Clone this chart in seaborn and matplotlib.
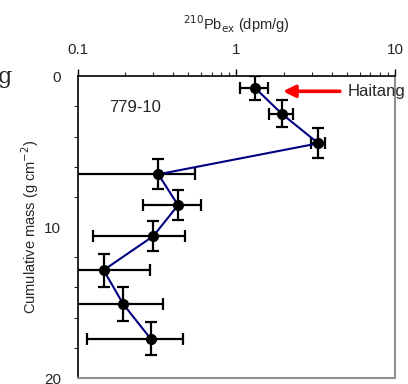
import numpy as np
import pandas as pd
import matplotlib
matplotlib.use('Agg')
import matplotlib.pyplot as plt
import seaborn as sns

sns.set_style('white')
plt.rcParams['font.family'] = ['Liberation Sans', 'DejaVu Sans']

# 210Pb excess activity (dpm/g) vs cumulative mass (g cm^-2), core 779-10
pb_ex = [1.32, 1.94, 3.29, 0.323, 0.43, 0.30, 0.146, 0.194, 0.289]
pb_err = [0.26, 0.33, 0.32, 0.23, 0.17, 0.175, 0.14, 0.15, 0.175]
cum_mass = [0.8, 2.5, 4.45, 6.5, 8.55, 10.6, 12.85, 15.1, 17.4]
mass_err = [0.8, 0.9, 1.0, 1.0, 1.0, 1.0, 1.1, 1.1, 1.1]

df = pd.DataFrame({'pb': pb_ex, 'mass': cum_mass})

fig = plt.figure(figsize=(4.08, 3.84), dpi=100)
ax = fig.add_axes([0.190, 0.0156, 0.778, 0.786])

ax.errorbar(pb_ex, cum_mass, xerr=pb_err, yerr=mass_err, fmt='none',
            ecolor='black', elinewidth=1.6, capsize=4.5, capthick=1.6, zorder=2)
sns.lineplot(data=df, x='pb', y='mass', sort=False, estimator=None,
             color='#000080', linewidth=1.5, ax=ax, zorder=3)
ax.plot(pb_ex, cum_mass, 'o', color='black', markersize=7, zorder=4)

ax.set_xscale('log')
ax.set_xlim(0.1, 10)
ax.set_ylim(20, 0)
ax.xaxis.set_ticks_position('top')
ax.xaxis.set_label_position('top')
ax.set_xticks([0.1, 1, 10])
ax.set_xticklabels(['0.1', '1', '10'])
ax.set_yticks([0, 10, 20])
ax.set_yticks(np.arange(0, 21, 2), minor=True)
ax.tick_params(axis='both', which='major', direction='out', length=5, width=1,
               labelsize=11, color='black')
ax.tick_params(axis='x', which='minor', direction='out', length=3, width=0.8,
               top=True, bottom=False)
ax.tick_params(axis='y', which='minor', direction='out', length=3, width=0.8, left=True)
ax.tick_params(axis='x', pad=9)
ax.tick_params(axis='y', pad=7)

ax.set_xlabel(r'$^{210}$Pb$_{\rm ex}$ (dpm/g)', fontsize=10.5, labelpad=9)
ax.set_ylabel(r'Cumulative mass (g cm$^{-2}$)', fontsize=10.5, labelpad=2)

for side in ['left', 'top']:
    ax.spines[side].set_color('black')
    ax.spines[side].set_linewidth(1.2)
for side in ['right', 'bottom']:
    ax.spines[side].set_color('#909090')
    ax.spines[side].set_linewidth(1.5)

ax.text(0.158, 2.1, '779-10', fontsize=12, ha='left', va='center')
ax.annotate('', xy=(1.97, 1.0), xytext=(4.5, 1.0),
            arrowprops=dict(arrowstyle='-|>', color='red', lw=2.6,
                            mutation_scale=18, shrinkA=0, shrinkB=0))
ax.text(5.05, 1.0, 'Haitang', fontsize=12, ha='left', va='center', clip_on=False)

fig.text(-0.005, 0.80, 'g', fontsize=16, family='DejaVu Serif', ha='left', va='center')

fig.savefig('out.png', dpi=100)
